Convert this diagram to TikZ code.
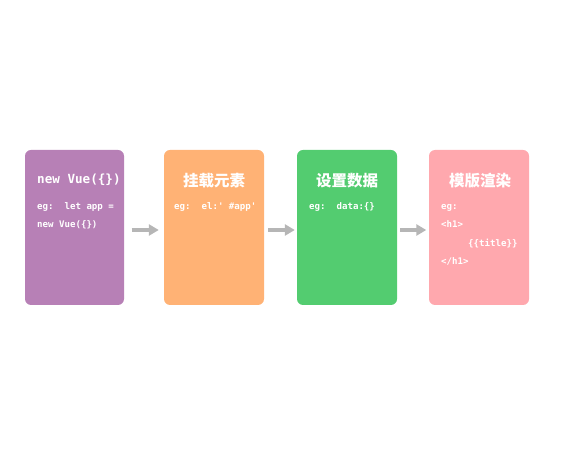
\documentclass[tikz,border=0pt]{standalone}
\usepackage{fontspec}
\setmonofont{DejaVu Sans Mono}
\newfontfamily\cjk{Noto Sans CJK SC}
\usepackage{tikz}
\usetikzlibrary{arrows.meta, calc}
\usepackage{xcolor}

\definecolor{vuepurple}{RGB}{183,128,182}
\definecolor{mountorange}{RGB}{255,178,117}
\definecolor{datagreen}{RGB}{83,204,112}
\definecolor{renderpink}{RGB}{255,168,174}
\definecolor{flowgray}{RGB}{182,182,182}

\begin{document}
\begin{tikzpicture}[x = 1pt, y = 1pt,
    stage/.style = {rounded corners = 6pt, minimum width = 100pt, minimum height = 155pt, inner sep = 0pt},
    headline/.style = {text = white, inner sep = 0pt},
    code/.style = {text = white, inner sep = 0pt, anchor = mid west, font = \ttfamily\bfseries\fontsize{9.1}{10}\selectfont},
    flow/.style = {draw = flowgray, line width = 4pt, -{Triangle[length = 10pt, width = 11pt]}}]
    \useasboundingbox (0,0) rectangle (576,450);
    \pgfmathsetmacro{\cy}{222.5}
    \pgfmathsetmacro{\ty}{269}
    \node[stage, fill = vuepurple, minimum width = 99pt] (vue) at (74.5,\cy){};
    \node[stage, fill = mountorange] (mount) at (214,\cy){};
    \node[stage, fill = datagreen] (data) at (347,\cy){};
    \node[stage, fill = renderpink] (render) at (479,\cy){};
    % titles
    \node[headline, anchor = mid west, font = \ttfamily\bfseries\fontsize{12.6}{14}\selectfont] (vuetitle) at (37,\ty){new Vue(\{\})};
    \node[headline, font = \cjk\bfseries\fontsize{15.5}{17}\selectfont] (mounttitle) at (214,\ty){挂载元素};
    \node[headline, font = \cjk\bfseries\fontsize{15.5}{17}\selectfont] (datatitle) at (347,\ty){设置数据};
    \node[headline, font = \cjk\bfseries\fontsize{15.5}{17}\selectfont] (rendertitle) at (480,\ty){模版渲染};
    % examples
    \node[code] (vueeg) at (37,243){eg:\ \ let app =};
    \node[code] (vuenew) at (37,224.5){new Vue(\{\})};
    \node[code] (mounteg) at (174,243){eg:\ \ el:'\ \#app'};
    \node[code] (dataeg) at (309,243){eg:\ \ data:\{\}};
    \node[code] (rendereg) at (441,243){eg:};
    \node[code] (renderopen) at (441,225){<h1>};
    \node[code] (rendertitlevar) at (468,206){\{\{title\}\}};
    \node[code] (renderclose) at (441,188){</h1>};
    % flow
    \draw[flow, shorten < = 7.5pt, shorten > = 5pt] ([yshift = -2.5pt]vue.east) -- ([yshift = -2.5pt]mount.west);
    \draw[flow, shorten < = 4pt, shorten > = 2pt] ([yshift = -2.5pt]mount.east) -- ([yshift = -2.5pt]data.west);
    \draw[flow, shorten < = 3pt, shorten > = 2.5pt] ([yshift = -2.5pt]data.east) -- ([yshift = -2.5pt]render.west);
\end{tikzpicture}
\end{document}
